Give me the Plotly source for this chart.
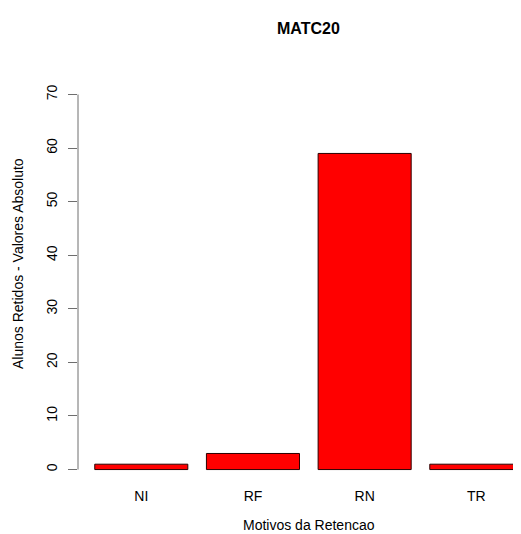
import plotly.graph_objects as go

motivos = ['NI', 'RF', 'RN', 'TR']
alunos = [1, 3, 59, 1]
y_ticks = [0, 10, 20, 30, 40, 50, 60, 70]

# R barplot style: width 1, space 0.2
largura = 1.0
espaco = 0.2
centros = [espaco + largura / 2 + i * (largura + espaco) for i in range(len(motivos))]

fonte = 'Liberation Sans, Arial, sans-serif'
eixo_cor = '#6e6e6e'

fig = go.Figure()
fig.add_trace(go.Bar(
    x=centros,
    y=alunos,
    width=largura,
    marker=dict(color='#FF0000', line=dict(color='#2b0000', width=1)),
    hoverinfo='skip',
))

# the page body adds an 8px margin, so the figure is 8px smaller than the window
fig.update_layout(
    width=513,
    height=526,
    margin=dict(l=70, r=0, t=34, b=48),
    paper_bgcolor='white',
    plot_bgcolor='white',
    showlegend=False,
    font=dict(family=fonte, size=14, color='black'),
    xaxis=dict(
        range=[0.02, 4.78],
        tickvals=centros,
        ticktext=motivos,
        showgrid=False,
        zeroline=False,
        showline=False,
        ticks='',
        tickfont=dict(size=14),
    ),
    yaxis=dict(
        range=[-3.07, 79.8],
        tickvals=y_ticks,
        showgrid=False,
        zeroline=False,
        showline=False,
        ticks='outside',
        ticklen=9,
        tickwidth=1,
        tickcolor=eixo_cor,
        tickangle=-90,
        ticklabelstandoff=5,
        tickfont=dict(size=14),
    ),
    shapes=[dict(
        type='line', xref='paper', yref='y',
        x0=0, x1=0, y0=min(y_ticks), y1=max(y_ticks),
        line=dict(color=eixo_cor, width=1),
    )],
    annotations=[
        dict(text='<b>MATC20</b>', xref='x', yref='paper', x=2.5, y=1, yshift=14,
             yanchor='middle', showarrow=False, font=dict(size=16)),
        dict(text='Motivos da Retencao', xref='x', yref='paper', x=2.5, y=0, yshift=-39,
             yanchor='middle', showarrow=False, font=dict(size=14)),
        dict(text='Alunos Retidos - Valores Absoluto', xref='paper', yref='paper',
             x=0, xshift=-60, y=0.5, textangle=-90, xanchor='center', yanchor='middle',
             showarrow=False, font=dict(size=14)),
    ],
)

fig.write_html('out.html')
